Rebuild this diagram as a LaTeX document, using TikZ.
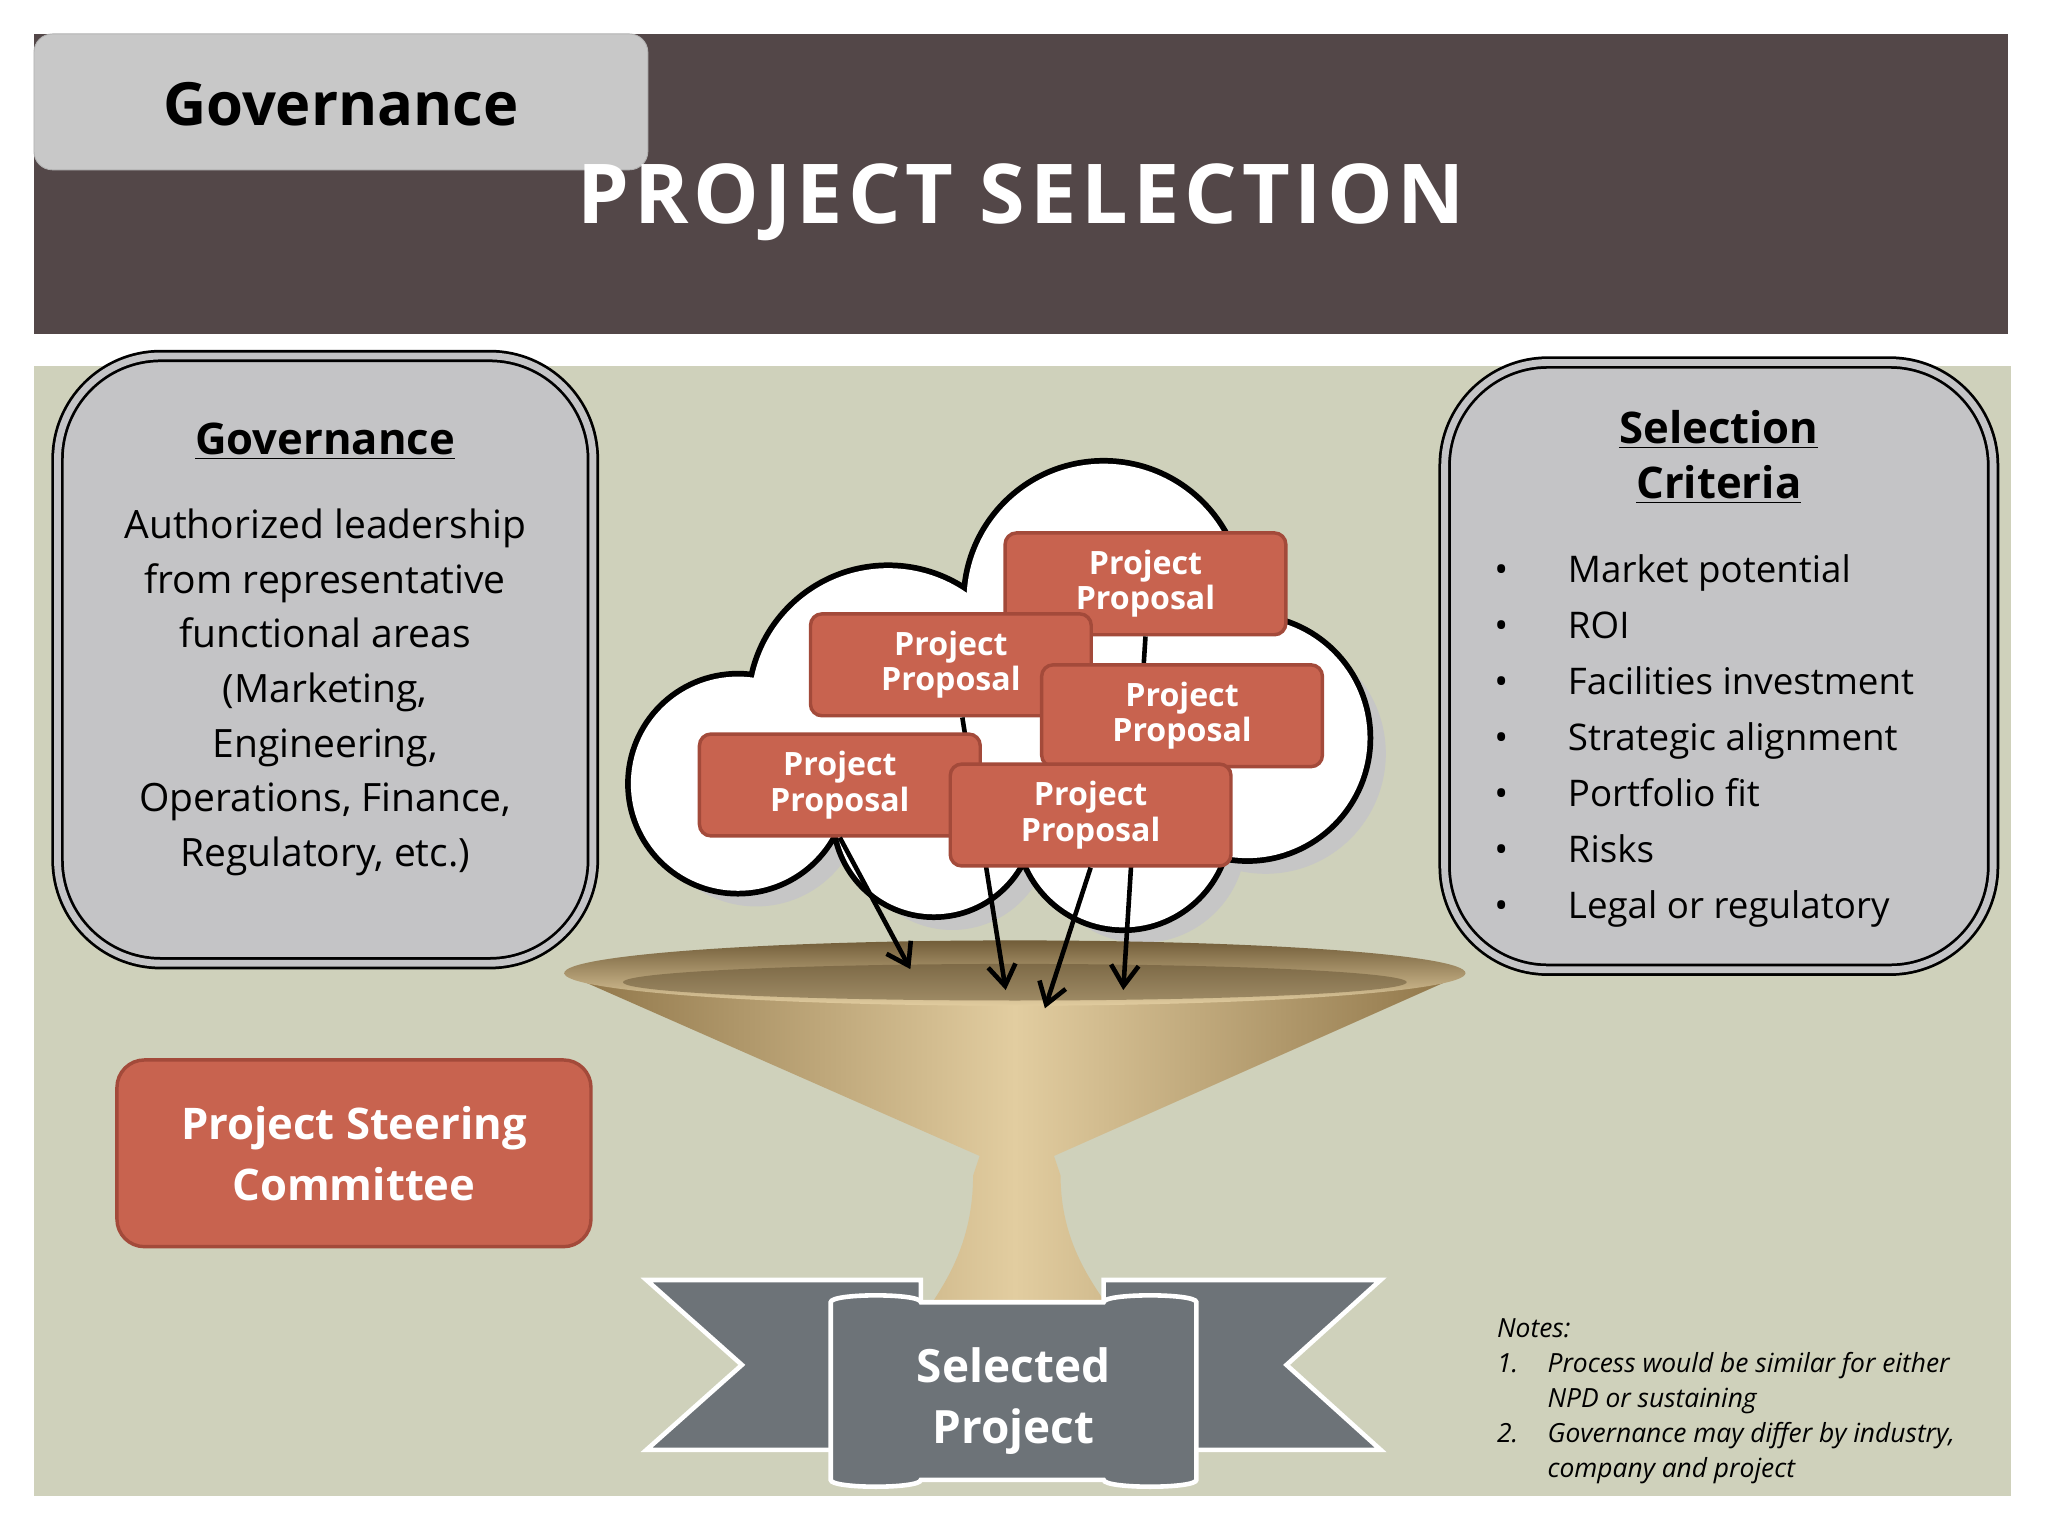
\documentclass[tikz,border=0pt]{standalone}
\usepackage{fontspec}
\setmainfont{Open Sans}
\usetikzlibrary{shapes.misc,arrows.meta}
\definecolor{band}{HTML}{534748}
\definecolor{tab}{HTML}{C8C8C8}
\definecolor{bg}{HTML}{CFD1BB}
\definecolor{boxg}{HTML}{C4C4C6}
\definecolor{prop}{HTML}{C8634F}
\definecolor{propb}{HTML}{A34A3A}
\definecolor{rib}{HTML}{6D7378}
\definecolor{tanl}{HTML}{E2CDA0}
\definecolor{tand}{HTML}{8E7447}
\begin{document}
\begin{tikzpicture}[x=0.02cm,y=-0.02cm,
 prop/.style={draw=propb,line width=1.5pt,fill=prop,rounded corners=5pt,minimum width=4.3cm,minimum height=1.56cm,text=white,align=center,font=\bfseries\fontsize{14}{15.5}\selectfont},
 arr/.style={line width=2pt,-{Straight Barb[length=9pt,width=12pt]}},
 dbox/.style={draw=black,line width=1.2pt,fill=boxg,rounded corners=45pt,double=boxg,double distance=3pt},
 bump/.style={draw=black,line width=5pt,fill=white}]
\useasboundingbox (0,0) rectangle (1568,1176);
\fill[white] (0,0) rectangle (1568,1176);
% header
\fill[band] (26,26) rectangle (1537,256);
\fill[tab,draw=gray!60,rounded corners=8pt] (26,26) rectangle (496,130);
\node (tabt) at (261,80) {\bfseries\fontsize{26}{30}\selectfont Governance};
\node[text=white] (title) at (782,155) {\bfseries\addfontfeature{LetterSpace=6}\fontsize{36}{40}\selectfont PROJECT SELECTION};
% background
\fill[bg] (26,280) rectangle (1540,1145);
% left box
\node[dbox,minimum width=8.2cm,minimum height=9.3cm] (gbox) at (249,505) {};
\node[font=\fontsize{19}{22}\selectfont\bfseries] (gh) at (249,338) {\underline{Governance}};
\node[align=center,font=\fontsize{17}{23.8}\selectfont] (gt) at (249,530) {Authorized leadership\\from representative\\functional areas\\(Marketing,\\Engineering,\\Operations, Finance,\\Regulatory, etc.)};
% right box
\node[dbox,minimum width=8.4cm,minimum height=9.3cm] (sbox) at (1316,510) {};
\node[align=center,font=\fontsize{19}{24}\selectfont\bfseries] (sh) at (1316,350) {\underline{Selection}\\\underline{Criteria}};
\node[anchor=north west,font=\fontsize{16}{24.4}\selectfont] (sl) at (1138,410) {%
\begin{tabular}{@{}l@{\hspace{26pt}}l@{}}
\textbullet & Market potential\\ \textbullet & ROI\\ \textbullet & Facilities investment\\
\textbullet & Strategic alignment\\ \textbullet & Portfolio fit\\ \textbullet & Risks\\ \textbullet & Legal or regulatory
\end{tabular}};
% cloud shadow
\begin{scope}[shift={(14,12)}]
\fill[gray!45] (845,460) circle (105) (680,540) circle (105) (565,600) circle (82) (955,565) circle (92) (715,625) circle (75) (860,630) circle (80);
\end{scope}
\draw[bump] (845,460) circle (105) (680,540) circle (105) (565,600) circle (82) (955,565) circle (92) (715,625) circle (75) (860,630) circle (80);
\fill[white] (845,460) circle (105) (680,540) circle (105) (565,600) circle (82) (955,565) circle (92) (715,625) circle (75) (860,630) circle (80) (760,560) circle (100);
% funnel
\shade[left color=tand,right color=tand,middle color=tanl] (432,745) -- (750,885) -- (745,900) .. controls (745,950) and (725,980) .. (712,1000) -- (848,1000) .. controls (835,980) and (812,950) .. (812,900) -- (807,885) -- (1122,745) -- cycle;
\shade[top color=tand!80!black,bottom color=tanl] (777,745) ellipse (345 and 25);
\fill[tand!70!black,opacity=0.5] (777,752) ellipse (300 and 14);
% proposals and arrows
\node[prop] (p1) at (877,447) {Project\\Proposal};
\coordinate (e1) at (860,758);
\draw[arr] (p1.south) -- (e1);
\node[prop] (p2) at (728,509) {Project\\Proposal};
\coordinate (e2) at (770,758);
\draw[arr] ([xshift=5]p2.south) -- (e2);
\node[prop] (p3) at (905,548) {Project\\Proposal};
\node[prop] (p4) at (643,601) {Project\\Proposal};
\coordinate (e4) at (697,742);
\draw[arr] (p4.south) -- (e4);
\node[prop] (p5) at (835,624) {Project\\Proposal};
\coordinate (e5) at (800,772);
\draw[arr] (p5.south) -- (e5);
% steering committee
\node[draw=propb,line width=1.5pt,fill=prop,rounded corners=12pt,minimum width=7.26cm,minimum height=2.86cm,text=white,align=center,font=\bfseries\fontsize{19}{26.6}\selectfont] (psc) at (271,883) {Project Steering\\Committee};
% ribbon
\filldraw[fill=rib,draw=white,line width=2pt] (495,980) -- (705,980) -- (705,1110) -- (495,1110) -- (568,1045) -- cycle;
\filldraw[fill=rib,draw=white,line width=2pt] (845,980) -- (1057,980) -- (985,1045) -- (1057,1110) -- (845,1110) -- cycle;
\filldraw[fill=rib,draw=white,line width=2pt] (636,997) .. controls (636,990) and (705,990) .. (705,997) -- (845,997) .. controls (845,990) and (916,990) .. (916,997) -- (916,1133) .. controls (916,1140) and (845,1140) .. (845,1133) -- (705,1133) .. controls (705,1140) and (636,1140) .. (636,1133) -- cycle;
\node[text=white,align=center,font=\bfseries\fontsize{20}{26.6}\selectfont] (sp) at (776,1073) {Selected\\Project};
% notes
\node[anchor=north west,align=left,font=\fontsize{11.5}{15.3}\selectfont\itshape] (notes) at (1140,1003) {Notes:\\
\makebox[22pt][l]{1.}Process would be similar for either\\\hspace*{22pt}NPD or sustaining\\
\makebox[22pt][l]{2.}Governance may differ by industry,\\\hspace*{22pt}company and project};
\end{tikzpicture}
\end{document}
